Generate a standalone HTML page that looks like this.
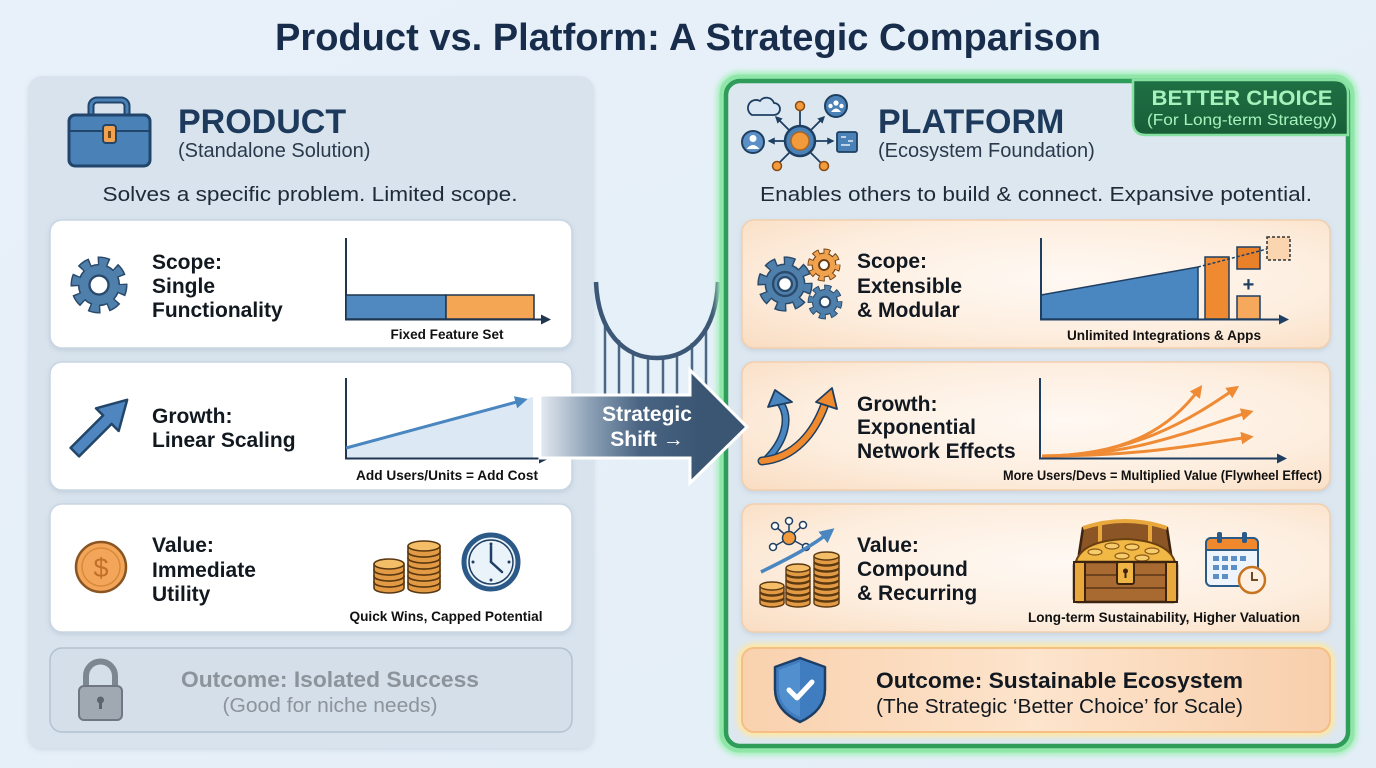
<!DOCTYPE html>
<html><head><meta charset="utf-8"><style>html,body{margin:0;padding:0;background:#e7f0f8}svg{display:block}</style></head>
<body>
<svg width="1376" height="768" viewBox="0 0 1376 768" xmlns="http://www.w3.org/2000/svg" font-family="'Liberation Sans', Arial, sans-serif">
<defs>
<linearGradient id="bg" x1="0" y1="0" x2="1" y2="1"><stop offset="0" stop-color="#e8f1f9"/><stop offset="1" stop-color="#e4eef7"/></linearGradient>
<radialGradient id="peach" cx="0.55" cy="0.45" r="0.8"><stop offset="0" stop-color="#fff9f3"/><stop offset="0.55" stop-color="#fdeedf"/><stop offset="1" stop-color="#f9dbbf"/></radialGradient>
<linearGradient id="outp" x1="0" y1="0" x2="1" y2="0"><stop offset="0" stop-color="#f9d1ae"/><stop offset="0.5" stop-color="#fde4cc"/><stop offset="1" stop-color="#f8cfac"/></linearGradient>
<linearGradient id="arrg" gradientUnits="userSpaceOnUse" x1="540" y1="0" x2="700" y2="0"><stop offset="0" stop-color="#e4eaf0"/><stop offset="0.3" stop-color="#8fa3b8"/><stop offset="0.62" stop-color="#4a6583"/><stop offset="1" stop-color="#3a5673"/></linearGradient>
<linearGradient id="badge" x1="0" y1="0" x2="0" y2="1"><stop offset="0" stop-color="#1f7044"/><stop offset="1" stop-color="#185e38"/></linearGradient>
<filter id="sh" x="-5%" y="-10%" width="110%" height="130%"><feDropShadow dx="0" dy="2" stdDeviation="2.5" flood-color="#5a7590" flood-opacity="0.18"/></filter>
<filter id="blur3" x="-10%" y="-10%" width="120%" height="120%"><feGaussianBlur stdDeviation="3"/></filter>
<marker id="ad" viewBox="0 0 10 10" refX="8" refY="5" markerWidth="4" markerHeight="4" orient="auto"><path d="M0 0 L10 5 L0 10 z" fill="#1f3f62"/></marker>
<marker id="ao" viewBox="0 0 10 10" refX="7" refY="5" markerWidth="4.2" markerHeight="4.2" orient="auto"><path d="M0 0 L10 5 L0 10 z" fill="#ef8a35"/></marker>
<marker id="ab" viewBox="0 0 10 10" refX="7" refY="5" markerWidth="4.2" markerHeight="4.2" orient="auto"><path d="M0 0 L10 5 L0 10 z" fill="#4a86bf"/></marker>
</defs>

<rect width="1376" height="768" fill="url(#bg)"/>

<!-- Title -->
<text x="688" y="50" text-anchor="middle" font-size="38" font-weight="700" fill="#172d4b" textLength="826" lengthAdjust="spacingAndGlyphs">Product vs. Platform: A Strategic Comparison</text>

<!-- LEFT PANEL -->
<rect x="28" y="76" width="566" height="672" rx="14" fill="#d8e3ed" filter="url(#sh)"/>

<!-- toolbox -->
<rect x="91" y="100" width="36" height="22" rx="6" fill="none" stroke="#22466b" stroke-width="7"/>
<rect x="91" y="100" width="36" height="22" rx="6" fill="none" stroke="#4a82b8" stroke-width="3"/>
<rect x="69" y="115" width="81" height="51" rx="6" fill="#4a82b8" stroke="#22466b" stroke-width="3"/>
<line x1="70" y1="131" x2="149" y2="131" stroke="#22466b" stroke-width="2"/>
<rect x="103" y="125" width="13" height="18" rx="3" fill="#f2a24e" stroke="#22466b" stroke-width="2"/>
<rect x="108" y="131" width="3" height="7" fill="#7a4a14"/>

<text x="178" y="133" font-size="34" font-weight="700" fill="#1d3a5c">PRODUCT</text>
<text x="178" y="157" font-size="20" fill="#2a3a4c">(Standalone Solution)</text>
<text x="310" y="201" text-anchor="middle" font-size="20" fill="#1e2a38" textLength="415" lengthAdjust="spacingAndGlyphs">Solves a specific problem. Limited scope.</text>

<!-- left cards -->
<rect x="50" y="220" width="522" height="128" rx="12" fill="#ffffff" stroke="#c8d5e2" stroke-width="1.5" filter="url(#sh)"/>
<rect x="50" y="362" width="522" height="128" rx="12" fill="#ffffff" stroke="#c8d5e2" stroke-width="1.5" filter="url(#sh)"/>
<rect x="50" y="504" width="522" height="128" rx="12" fill="#ffffff" stroke="#c8d5e2" stroke-width="1.5" filter="url(#sh)"/>
<rect x="50" y="648" width="522" height="84" rx="12" fill="#d4dfe9" stroke="#b3c2d1" stroke-width="1.5"/>

<!-- gear left -->
<g transform="translate(99,285) scale(0.95)">
<circle r="24.5" fill="none" stroke="#2a4a6c" stroke-width="11" stroke-dasharray="11.5 7.74" stroke-dashoffset="1.5"/>
<circle r="21" fill="#4f7fab" stroke="#2a4a6c" stroke-width="2.5"/>
<circle r="24.5" fill="none" stroke="#4f7fab" stroke-width="8" stroke-dasharray="8.5 10.74"/>
<circle r="20.6" fill="#4f7fab"/>
<circle r="10" fill="#ffffff" stroke="#2a4a6c" stroke-width="2.5"/>
</g>
<text font-size="21" font-weight="700" fill="#111820"><tspan x="152" y="269">Scope:</tspan><tspan x="152" y="293">Single</tspan><tspan x="152" y="317">Functionality</tspan></text>

<!-- chart 1 -->
<line x1="346" y1="238" x2="346" y2="320" stroke="#1f3550" stroke-width="2"/>
<rect x="346" y="295" width="100" height="24" fill="#4f89bf" stroke="#1f3550" stroke-width="1.5"/>
<rect x="446" y="295" width="88" height="24" fill="#f4a655" stroke="#1f3550" stroke-width="1.5"/>
<line x1="345" y1="319.5" x2="542" y2="319.5" stroke="#1f3550" stroke-width="2"/>
<polygon points="551,319.5 541,314.5 541,324.5" fill="#1f3550"/>
<text x="447" y="339" text-anchor="middle" font-size="14" font-weight="700" fill="#111" textLength="113" lengthAdjust="spacingAndGlyphs">Fixed Feature Set</text>

<!-- growth left -->
<g transform="translate(101,426) rotate(-45) translate(-37,0)">
<polygon points="0,-6 46,-6 46,-16 74,0 46,16 46,6 0,6" fill="#4f86bf" stroke="#22456a" stroke-width="2.5" stroke-linejoin="round"/>
</g>
<text font-size="21" font-weight="700" fill="#111820"><tspan x="152" y="423">Growth:</tspan><tspan x="152" y="447">Linear Scaling</tspan></text>

<polygon points="346,448 533,397 533,458 346,458" fill="#dce9f5"/>
<line x1="346" y1="378" x2="346" y2="459" stroke="#1f3550" stroke-width="2"/>
<line x1="346" y1="448" x2="524" y2="400" stroke="#4a86bf" stroke-width="3" marker-end="url(#ab)"/>
<line x1="345" y1="458.5" x2="540" y2="458.5" stroke="#1f3550" stroke-width="2"/>
<polygon points="549,458.5 539,453.5 539,463.5" fill="#1f3550"/>
<text x="447" y="480" text-anchor="middle" font-size="14" font-weight="700" fill="#111" textLength="182" lengthAdjust="spacingAndGlyphs">Add Users/Units = Add Cost</text>

<!-- value left -->
<circle cx="101" cy="567" r="25" fill="#f3a559" stroke="#8a5520" stroke-width="2.5"/>
<circle cx="101" cy="567" r="19" fill="none" stroke="#d98a3a" stroke-width="1.5"/>
<text x="101" y="577" text-anchor="middle" font-size="27" fill="#c0702a">$</text>
<text font-size="21" font-weight="700" fill="#111820"><tspan x="152" y="552">Value:</tspan><tspan x="152" y="577">Immediate</tspan><tspan x="152" y="601">Utility</tspan></text>

<!-- coins left -->
<g stroke="#5a3810" stroke-width="1.6">
<path d="M374 582 v6 a15 5 0 0 0 30 0 v-6" fill="#e39a45"/><ellipse cx="389" cy="582" rx="15" ry="5" fill="#f4bd68"/>
<path d="M374 576 v6 a15 5 0 0 0 30 0 v-6" fill="#e39a45"/><ellipse cx="389" cy="576" rx="15" ry="5" fill="#f4bd68"/>
<path d="M374 570 v6 a15 5 0 0 0 30 0 v-6" fill="#e39a45"/><ellipse cx="389" cy="570" rx="15" ry="5" fill="#f4bd68"/>
<path d="M374 564 v6 a15 5 0 0 0 30 0 v-6" fill="#e39a45"/><ellipse cx="389" cy="564" rx="15" ry="5" fill="#f4bd68"/>
<path d="M408 582 v6 a16 5 0 0 0 32 0 v-6" fill="#e39a45"/><ellipse cx="424" cy="582" rx="16" ry="5" fill="#f4bd68"/>
<path d="M408 576 v6 a16 5 0 0 0 32 0 v-6" fill="#e39a45"/><ellipse cx="424" cy="576" rx="16" ry="5" fill="#f4bd68"/>
<path d="M408 570 v6 a16 5 0 0 0 32 0 v-6" fill="#e39a45"/><ellipse cx="424" cy="570" rx="16" ry="5" fill="#f4bd68"/>
<path d="M408 564 v6 a16 5 0 0 0 32 0 v-6" fill="#e39a45"/><ellipse cx="424" cy="564" rx="16" ry="5" fill="#f4bd68"/>
<path d="M408 558 v6 a16 5 0 0 0 32 0 v-6" fill="#e39a45"/><ellipse cx="424" cy="558" rx="16" ry="5" fill="#f4bd68"/>
<path d="M408 552 v6 a16 5 0 0 0 32 0 v-6" fill="#e39a45"/><ellipse cx="424" cy="552" rx="16" ry="5" fill="#f4bd68"/>
<path d="M408 546 v6 a16 5 0 0 0 32 0 v-6" fill="#e39a45"/><ellipse cx="424" cy="546" rx="16" ry="5" fill="#f4bd68"/>
</g>
<!-- clock -->
<circle cx="491" cy="562" r="27" fill="#eaf2fa" stroke="#2b5a88" stroke-width="5"/>
<circle cx="491" cy="562" r="22" fill="none" stroke="#1e3f63" stroke-width="1.5"/>
<g fill="#1e3f63"><circle cx="491" cy="544" r="1.5"/><circle cx="509" cy="562" r="1.5"/><circle cx="491" cy="580" r="1.5"/><circle cx="473" cy="562" r="1.5"/></g>
<line x1="491" y1="562" x2="491" y2="546" stroke="#1e3f63" stroke-width="2.5" stroke-linecap="round"/>
<line x1="491" y1="562" x2="502" y2="572" stroke="#1e3f63" stroke-width="2.5" stroke-linecap="round"/>
<text x="446" y="621" text-anchor="middle" font-size="14" font-weight="700" fill="#111" textLength="193" lengthAdjust="spacingAndGlyphs">Quick Wins, Capped Potential</text>

<!-- left outcome -->
<path d="M86 690 V676 a14.5 14.5 0 0 1 29 0 V690" fill="none" stroke="#7d8791" stroke-width="6"/>
<rect x="79" y="686" width="43" height="34" rx="5" fill="#a0a8b1" stroke="#6f7882" stroke-width="2"/>
<circle cx="100.5" cy="700" r="3.5" fill="#5c646d"/><rect x="99" y="701" width="3" height="8" fill="#5c646d"/>
<text x="330" y="687" text-anchor="middle" font-size="22" font-weight="700" fill="#8c939b" textLength="298" lengthAdjust="spacingAndGlyphs">Outcome: Isolated Success</text>
<text x="330" y="712" text-anchor="middle" font-size="20" fill="#8c939b" textLength="215" lengthAdjust="spacingAndGlyphs">(Good for niche needs)</text>

<!-- BRIDGE -->
<g stroke="#4a6886" stroke-width="2.5">
<line x1="605" y1="322" x2="605" y2="394"/><line x1="619" y1="340" x2="619" y2="394"/><line x1="633" y1="351" x2="633" y2="394"/><line x1="648" y1="356" x2="648" y2="394"/><line x1="663" y1="357" x2="663" y2="394"/><line x1="677" y1="353" x2="677" y2="394"/><line x1="692" y1="343" x2="692" y2="394"/><line x1="706" y1="327" x2="706" y2="394"/>
</g>
<path d="M596 282 C598 332 624 358 657 358 C690 358 716 332 718 282" fill="none" stroke="#3d5876" stroke-width="4.5"/>

<!-- RIGHT PANEL -->
<rect x="722" y="77" width="630" height="673" rx="17" fill="none" stroke="#9ff0b5" stroke-width="10" filter="url(#blur3)"/>
<rect x="722" y="77" width="630" height="673" rx="17" fill="none" stroke="#8fe6a8" stroke-width="5"/>
<rect x="726" y="81" width="622" height="665" rx="14" fill="#dde7f0" stroke="#2f9c59" stroke-width="4.5"/>
<!-- badge -->
<path d="M1133 80 H1334 Q1348 80 1348 94 V135 H1146 Q1133 135 1133 122 Z" fill="url(#badge)" stroke="#86e0a0" stroke-width="2.5"/>
<text x="1242" y="105" text-anchor="middle" font-size="21" font-weight="700" fill="#a6f2bb" textLength="181" lengthAdjust="spacingAndGlyphs">BETTER CHOICE</text>
<text x="1242" y="125" text-anchor="middle" font-size="15.5" fill="#a6f2bb" textLength="190" lengthAdjust="spacingAndGlyphs">(For Long-term Strategy)</text>

<!-- network icon -->
<g stroke="#1f3f62" stroke-width="1.8" fill="none">
<line x1="800" y1="126" x2="800" y2="110"/>
<line x1="785" y1="141" x2="769" y2="141" marker-end="url(#ad)"/>
<line x1="815" y1="141" x2="833" y2="141" marker-end="url(#ad)"/>
<line x1="789" y1="130" x2="776" y2="117" marker-end="url(#ad)"/>
<line x1="811" y1="130" x2="824" y2="117" marker-end="url(#ad)"/>
<line x1="790" y1="152" x2="779" y2="163"/>
<line x1="810" y1="152" x2="821" y2="163"/>
</g>
<circle cx="800" cy="141" r="15" fill="#4a82b8" stroke="#1f3f62" stroke-width="2.5"/>
<circle cx="800" cy="141" r="9" fill="#f39a3d" stroke="#b0661c" stroke-width="1.5"/>
<g fill="#f39a3d" stroke="#8a4a10" stroke-width="1.5"><circle cx="800" cy="106" r="4.5"/><circle cx="777" cy="166" r="4.5"/><circle cx="824" cy="166" r="4.5"/></g>
<circle cx="753" cy="142" r="11" fill="#5b8fc6" stroke="#1f3f62" stroke-width="2"/>
<circle cx="753" cy="138.5" r="3.5" fill="#fff"/><path d="M746.5 149 Q753 141 759.5 149 Z" fill="#fff"/>
<circle cx="836" cy="106" r="11" fill="#4a82b8" stroke="#1f3f62" stroke-width="2"/>
<g fill="#fff"><circle cx="836" cy="103" r="2.6"/><circle cx="830.5" cy="106" r="2.2"/><circle cx="841.5" cy="106" r="2.2"/><path d="M831 112 Q836 105 841 112 Z"/></g>
<rect x="837" y="132" width="20" height="20" rx="2" fill="#4a82b8" stroke="#1f3f62" stroke-width="1.8"/>
<g stroke="#fff" stroke-width="1.3"><line x1="841" y1="137" x2="846" y2="137"/><line x1="848" y1="141" x2="853" y2="141"/><line x1="841" y1="145" x2="850" y2="145"/></g>
<path d="M752 115 H774 A6 6 0 0 0 774 103 A8 8 0 0 0 760 101 A7 7 0 0 0 752 115 Z" fill="#d9e7f4" stroke="#1f3f62" stroke-width="1.8"/>

<text x="878" y="133" font-size="34" font-weight="700" fill="#1d3a5c">PLATFORM</text>
<text x="878" y="157" font-size="20" fill="#2a3a4c">(Ecosystem Foundation)</text>
<text x="1036" y="201" text-anchor="middle" font-size="20" fill="#1e2a38" textLength="552" lengthAdjust="spacingAndGlyphs">Enables others to build &amp; connect. Expansive potential.</text>

<!-- right cards -->
<rect x="742" y="220" width="588" height="128" rx="12" fill="url(#peach)" stroke="#f1cfad" stroke-width="1.5" filter="url(#sh)"/>
<rect x="742" y="362" width="588" height="128" rx="12" fill="url(#peach)" stroke="#f1cfad" stroke-width="1.5" filter="url(#sh)"/>
<rect x="742" y="504" width="588" height="128" rx="12" fill="url(#peach)" stroke="#f1cfad" stroke-width="1.5" filter="url(#sh)"/>
<rect x="742" y="648" width="588" height="84" rx="12" fill="none" stroke="#ffe7a0" stroke-width="9" filter="url(#blur3)"/>
<rect x="742" y="648" width="588" height="84" rx="12" fill="url(#outp)" stroke="#f5bf86" stroke-width="2"/>

<!-- gears right -->
<g transform="translate(785,284) scale(0.92)">
<circle r="24.5" fill="none" stroke="#2a4a6c" stroke-width="11" stroke-dasharray="11.5 7.74" stroke-dashoffset="1.5"/>
<circle r="21" fill="#4f7fab" stroke="#2a4a6c" stroke-width="2.5"/>
<circle r="24.5" fill="none" stroke="#4f7fab" stroke-width="8" stroke-dasharray="8.5 10.74"/>
<circle r="20.6" fill="#4f7fab"/>
<circle r="13" fill="none" stroke="#2a4a6c" stroke-width="2.5"/>
<circle r="7.5" fill="#ffffff" stroke="#2a4a6c" stroke-width="2.5"/>
</g>
<g transform="translate(824,265) scale(0.55)">
<circle r="24.5" fill="none" stroke="#6a3a10" stroke-width="11" stroke-dasharray="11.5 7.74" stroke-dashoffset="1.5"/>
<circle r="21" fill="#f0a24e" stroke="#6a3a10" stroke-width="3"/>
<circle r="24.5" fill="none" stroke="#f0a24e" stroke-width="8" stroke-dasharray="8.5 10.74"/>
<circle r="20.6" fill="#f0a24e"/>
<circle r="9" fill="#ffffff" stroke="#6a3a10" stroke-width="3.5"/>
</g>
<g transform="translate(825,302) scale(0.58)">
<circle r="24.5" fill="none" stroke="#2a4a6c" stroke-width="11" stroke-dasharray="11.5 7.74" stroke-dashoffset="1.5"/>
<circle r="21" fill="#4f7fab" stroke="#2a4a6c" stroke-width="3"/>
<circle r="24.5" fill="none" stroke="#4f7fab" stroke-width="8" stroke-dasharray="8.5 10.74"/>
<circle r="20.6" fill="#4f7fab"/>
<circle r="9" fill="#ffffff" stroke="#2a4a6c" stroke-width="3.5"/>
</g>
<text font-size="21" font-weight="700" fill="#111820"><tspan x="857" y="268">Scope:</tspan><tspan x="857" y="293">Extensible</tspan><tspan x="857" y="317">&amp; Modular</tspan></text>

<!-- right scope chart -->
<polygon points="1041,295 1198,267 1198,319 1041,319" fill="#4a86bf" stroke="#1f3f62" stroke-width="1.5"/>
<rect x="1205" y="257" width="24" height="62" fill="#ef8a30" stroke="#1f3f62" stroke-width="1.5"/>
<rect x="1237" y="247" width="23" height="22" fill="#e9802a" stroke="#1f3f62" stroke-width="1.5"/>
<rect x="1267" y="237" width="23" height="23" fill="#fbd4b0" stroke="#333" stroke-width="1.5" stroke-dasharray="3 2"/>
<rect x="1237" y="296" width="23" height="23" fill="#f6a85c" stroke="#1f3f62" stroke-width="1.5"/>
<line x1="1198" y1="267" x2="1267" y2="249" stroke="#1f3f62" stroke-width="1.5" stroke-dasharray="3 2"/>
<text x="1248.5" y="291" text-anchor="middle" font-size="20" font-weight="700" fill="#1f3f62">+</text>
<line x1="1041" y1="238" x2="1041" y2="320" stroke="#1f3f62" stroke-width="2"/>
<line x1="1040" y1="319.5" x2="1280" y2="319.5" stroke="#1f3f62" stroke-width="2"/>
<polygon points="1289,319.5 1279,314.5 1279,324.5" fill="#1f3f62"/>
<text x="1164" y="340" text-anchor="middle" font-size="14" font-weight="700" fill="#111" textLength="194" lengthAdjust="spacingAndGlyphs">Unlimited Integrations &amp; Apps</text>

<!-- growth right icon -->
<path d="M766 460 C786 440 790 418 781 404" fill="none" stroke="#1f3f62" stroke-width="8" stroke-linecap="round"/>
<path d="M766 460 C786 440 790 418 781 404" fill="none" stroke="#4a86c0" stroke-width="5" stroke-linecap="round"/>
<polygon points="775,390 768,407 792,402" fill="#4a86c0" stroke="#1f3f62" stroke-width="1.8" stroke-linejoin="round"/>
<path d="M762 461 C795 458 815 432 825 404" fill="none" stroke="#1f3f62" stroke-width="9" stroke-linecap="round"/>
<path d="M762 461 C795 458 815 432 825 404" fill="none" stroke="#f08a2e" stroke-width="6" stroke-linecap="round"/>
<polygon points="832,388 816,402 837,409" fill="#f08a2e" stroke="#1f3f62" stroke-width="1.8" stroke-linejoin="round"/>
<text font-size="21" font-weight="700" fill="#111820"><tspan x="857" y="411">Growth:</tspan><tspan x="857" y="434">Exponential</tspan><tspan x="857" y="458">Network Effects</tspan></text>

<!-- growth right chart -->
<line x1="1040" y1="378" x2="1040" y2="459" stroke="#1f3f62" stroke-width="2"/>
<line x1="1039" y1="458.5" x2="1278" y2="458.5" stroke="#1f3f62" stroke-width="2"/>
<polygon points="1287,458.5 1277,453.5 1277,463.5" fill="#1f3f62"/>
<g fill="none" stroke="#ef8a35" stroke-width="3">
<path d="M1042 456 C1120 456 1168 432 1200 388" marker-end="url(#ao)"/>
<path d="M1042 456 C1132 456 1190 420 1236 388" marker-end="url(#ao)"/>
<path d="M1042 456 C1142 456 1200 426 1250 412" marker-end="url(#ao)"/>
<path d="M1042 456 C1152 456 1210 442 1250 437" marker-end="url(#ao)"/>
</g>
<text x="1162.5" y="480" text-anchor="middle" font-size="14" font-weight="700" fill="#111" textLength="319" lengthAdjust="spacingAndGlyphs">More Users/Devs = Multiplied Value (Flywheel Effect)</text>

<!-- value right icon -->
<g stroke="#1f3f62" stroke-width="1.5">
<line x1="789" y1="538" x2="775" y2="526"/><line x1="789" y1="538" x2="803" y2="525"/><line x1="789" y1="538" x2="789" y2="522"/><line x1="789" y1="538" x2="773" y2="547"/><line x1="789" y1="538" x2="806" y2="547"/>
<circle cx="775" cy="526" r="3.5" fill="#fff"/><circle cx="803" cy="525" r="3.5" fill="#fff"/><circle cx="789" cy="521" r="3.5" fill="#fff"/><circle cx="773" cy="547" r="3.5" fill="#fff"/><circle cx="806" cy="547" r="3.5" fill="#fff"/>
<circle cx="789" cy="538" r="6.5" fill="#f39a3d"/>
</g>
<path d="M761 572 C785 560 810 548 831 531" fill="none" stroke="#4a86c0" stroke-width="3.5" marker-end="url(#ab)"/>
<g stroke="#5a3810" stroke-width="1.4">
<path d="M760 598 v5 a12 4 0 0 0 24 0 v-5" fill="#e39a45"/><ellipse cx="772" cy="598" rx="12" ry="4" fill="#f4bd68"/>
<path d="M760 592 v5 a12 4 0 0 0 24 0 v-5" fill="#e39a45"/><ellipse cx="772" cy="592" rx="12" ry="4" fill="#f4bd68"/>
<path d="M760 586 v5 a12 4 0 0 0 24 0 v-5" fill="#e39a45"/><ellipse cx="772" cy="586" rx="12" ry="4" fill="#f4bd68"/>
<path d="M786 598 v5 a12 4 0 0 0 24 0 v-5" fill="#e39a45"/><ellipse cx="798" cy="598" rx="12" ry="4" fill="#f4bd68"/>
<path d="M786 592 v5 a12 4 0 0 0 24 0 v-5" fill="#e39a45"/><ellipse cx="798" cy="592" rx="12" ry="4" fill="#f4bd68"/>
<path d="M786 586 v5 a12 4 0 0 0 24 0 v-5" fill="#e39a45"/><ellipse cx="798" cy="586" rx="12" ry="4" fill="#f4bd68"/>
<path d="M786 580 v5 a12 4 0 0 0 24 0 v-5" fill="#e39a45"/><ellipse cx="798" cy="580" rx="12" ry="4" fill="#f4bd68"/>
<path d="M786 574 v5 a12 4 0 0 0 24 0 v-5" fill="#e39a45"/><ellipse cx="798" cy="574" rx="12" ry="4" fill="#f4bd68"/>
<path d="M786 568 v5 a12 4 0 0 0 24 0 v-5" fill="#e39a45"/><ellipse cx="798" cy="568" rx="12" ry="4" fill="#f4bd68"/>
<path d="M814 598 v5 a12.5 4 0 0 0 25 0 v-5" fill="#e39a45"/><ellipse cx="826.5" cy="598" rx="12.5" ry="4" fill="#f4bd68"/>
<path d="M814 592 v5 a12.5 4 0 0 0 25 0 v-5" fill="#e39a45"/><ellipse cx="826.5" cy="592" rx="12.5" ry="4" fill="#f4bd68"/>
<path d="M814 586 v5 a12.5 4 0 0 0 25 0 v-5" fill="#e39a45"/><ellipse cx="826.5" cy="586" rx="12.5" ry="4" fill="#f4bd68"/>
<path d="M814 580 v5 a12.5 4 0 0 0 25 0 v-5" fill="#e39a45"/><ellipse cx="826.5" cy="580" rx="12.5" ry="4" fill="#f4bd68"/>
<path d="M814 574 v5 a12.5 4 0 0 0 25 0 v-5" fill="#e39a45"/><ellipse cx="826.5" cy="574" rx="12.5" ry="4" fill="#f4bd68"/>
<path d="M814 568 v5 a12.5 4 0 0 0 25 0 v-5" fill="#e39a45"/><ellipse cx="826.5" cy="568" rx="12.5" ry="4" fill="#f4bd68"/>
<path d="M814 562 v5 a12.5 4 0 0 0 25 0 v-5" fill="#e39a45"/><ellipse cx="826.5" cy="562" rx="12.5" ry="4" fill="#f4bd68"/>
<path d="M814 556 v5 a12.5 4 0 0 0 25 0 v-5" fill="#e39a45"/><ellipse cx="826.5" cy="556" rx="12.5" ry="4" fill="#f4bd68"/>
</g>
<text font-size="21" font-weight="700" fill="#111820"><tspan x="857" y="552">Value:</tspan><tspan x="857" y="576">Compound</tspan><tspan x="857" y="600">&amp; Recurring</tspan></text>

<!-- chest -->
<path d="M1079 554 L1083 528 Q1125 514 1167 528 L1171 554 Z" fill="#8b5525" stroke="#3d2410" stroke-width="2.5"/>
<path d="M1083 528 Q1125 514 1167 528" fill="none" stroke="#e9a83c" stroke-width="4"/>
<line x1="1100" y1="522" x2="1100" y2="552" stroke="#e9a83c" stroke-width="4"/>
<line x1="1150" y1="522" x2="1150" y2="552" stroke="#e9a83c" stroke-width="4"/>
<path d="M1075 566 Q1078 541 1125 539 Q1172 541 1176 566 Z" fill="#f2b845" stroke="#6a4010" stroke-width="2"/>
<g fill="#f7cc6a" stroke="#8a5a18" stroke-width="1.2"><ellipse cx="1095" cy="552" rx="7" ry="3"/><ellipse cx="1112" cy="546" rx="7" ry="3"/><ellipse cx="1132" cy="547" rx="7" ry="3"/><ellipse cx="1152" cy="551" rx="7" ry="3"/><ellipse cx="1122" cy="556" rx="7" ry="3"/><ellipse cx="1142" cy="558" rx="7" ry="3"/></g>
<rect x="1074" y="562" width="103" height="40" rx="3" fill="#a86a30" stroke="#3d2410" stroke-width="2.5"/>
<line x1="1076" y1="575" x2="1175" y2="575" stroke="#5a3515" stroke-width="1.5"/>
<line x1="1076" y1="588" x2="1175" y2="588" stroke="#5a3515" stroke-width="1.5"/>
<rect x="1074" y="562" width="11" height="40" fill="#e9a83c" stroke="#3d2410" stroke-width="2"/>
<rect x="1166" y="562" width="11" height="40" fill="#e9a83c" stroke="#3d2410" stroke-width="2"/>
<rect x="1117" y="562" width="17" height="22" rx="2" fill="#f0b445" stroke="#3d2410" stroke-width="2"/>
<circle cx="1125.5" cy="571" r="2.5" fill="#3d2410"/><rect x="1124.5" y="572" width="2" height="6" fill="#3d2410"/>

<!-- calendar -->
<rect x="1206" y="538" width="52" height="48" rx="5" fill="#eef4fb" stroke="#2c5a86" stroke-width="2"/>
<path d="M1206 550 V543 a5 5 0 0 1 5 -5 H1253 a5 5 0 0 1 5 5 V550 Z" fill="#f0892e" stroke="#2c5a86" stroke-width="2"/>
<rect x="1217" y="532" width="5" height="11" rx="2" fill="#2c5a86"/><rect x="1242" y="532" width="5" height="11" rx="2" fill="#2c5a86"/>
<g fill="#5b8fc6">
<rect x="1213" y="556" width="6" height="5"/><rect x="1222" y="556" width="6" height="5"/><rect x="1231" y="556" width="6" height="5"/><rect x="1240" y="556" width="6" height="5"/>
<rect x="1213" y="565" width="6" height="5"/><rect x="1222" y="565" width="6" height="5"/><rect x="1231" y="565" width="6" height="5"/>
<rect x="1213" y="574" width="6" height="5"/><rect x="1222" y="574" width="6" height="5"/>
</g>
<circle cx="1252" cy="580" r="13" fill="#fdf0e2" stroke="#c8741f" stroke-width="2.5"/>
<path d="M1252 572 V580 H1258" fill="none" stroke="#5a3810" stroke-width="1.8"/>
<text x="1164" y="622" text-anchor="middle" font-size="14" font-weight="700" fill="#111" textLength="272" lengthAdjust="spacingAndGlyphs">Long-term Sustainability, Higher Valuation</text>

<!-- shield -->
<path d="M800 658 L825 667 V689 C825 706 813 716 800 722 C787 716 775 706 775 689 V667 Z" fill="#3f7cc0" stroke="#1d3f66" stroke-width="2.5" stroke-linejoin="round"/>
<path d="M800 662 L779 670 V689 C779 703 789 712 800 717 Z" fill="#5b97d4" opacity="0.7"/>
<path d="M789 690 L797 698 L812 682" fill="none" stroke="#ffffff" stroke-width="5" stroke-linecap="round" stroke-linejoin="round"/>
<text x="876" y="688" font-size="22" font-weight="700" fill="#111820" textLength="367" lengthAdjust="spacingAndGlyphs">Outcome: Sustainable Ecosystem</text>
<text x="876" y="713" font-size="20" fill="#111820" textLength="367" lengthAdjust="spacingAndGlyphs">(The Strategic ‘Better Choice’ for Scale)</text>

<!-- STRATEGIC SHIFT ARROW (on top) -->
<polygon points="540,395 690,395 690,370 747,427 690,483 690,458 540,458" fill="url(#arrg)" stroke="#ffffff" stroke-width="3" stroke-linejoin="miter"/>
<text x="647" y="421" text-anchor="middle" font-size="21" font-weight="700" fill="#ffffff">Strategic</text>
<text x="647" y="446" text-anchor="middle" font-size="21" font-weight="700" fill="#ffffff">Shift →</text>
</svg>
</body></html>
